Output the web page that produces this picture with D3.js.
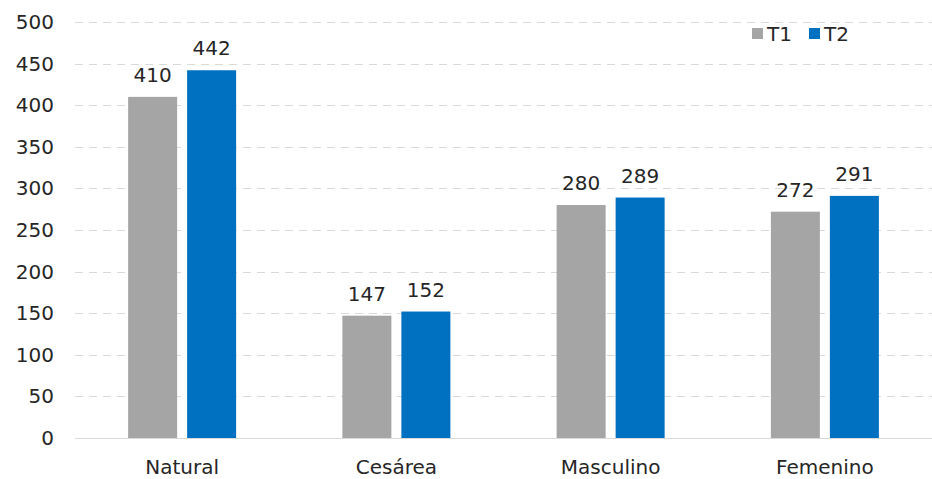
<!DOCTYPE html>
<html>
<head>
  <meta charset="utf-8">
  <title>Bars</title>
  <script src="https://d3js.org/d3.v7.min.js"></script>
  <style>
    body { margin: 0; background: #fff; font-family: 'Century Gothic', 'URW Gothic', 'DejaVu Sans', sans-serif; }
    text { fill: #262626; font-size: 20px; }
    .grid line { stroke: #d9d9d9; stroke-dasharray: 8 6; stroke-width: 1; }
  </style>
</head>
<body>
  <div id="chart"></div>
  <script>
    var categories = ['Natural', 'Cesárea', 'Masculino', 'Femenino'];
    var series = ['T1', 'T2'];
    var t1 = [410, 147, 280, 272];
    var t2 = [442, 152, 289, 291];
    var yTicks = [0, 50, 100, 150, 200, 250, 300, 350, 400, 450, 500];
    var colors = { 'T1': '#a5a5a5', 'T2': '#0070c0' };

    var width = 932, height = 479;
    var margin = { top: 22, right: 0, bottom: 41, left: 75 };

    var svg = d3.select('#chart').append('svg')
      .attr('width', width)
      .attr('height', height);

    var x0 = d3.scaleBand()
      .domain(categories)
      .range([margin.left, width - margin.right]);

    var bw = x0.bandwidth();
    // two bars of ~49px with a 10px gap, centred in each band
    var x1 = d3.scaleBand()
      .domain(series)
      .range([bw / 2 - 54, bw / 2 + 54])
      .paddingInner(10 / 59);

    var y = d3.scaleLinear()
      .domain([0, 500])
      .range([height - margin.bottom, margin.top]);

    // gridlines
    svg.append('g').attr('class', 'grid')
      .selectAll('line')
      .data(yTicks.slice(1))
      .enter().append('line')
      .attr('x1', margin.left)
      .attr('x2', width - margin.right)
      .attr('y1', function(d) { return Math.round(y(d)) + 0.5; })
      .attr('y2', function(d) { return Math.round(y(d)) + 0.5; });

    // y tick labels
    svg.append('g')
      .selectAll('text')
      .data(yTicks)
      .enter().append('text')
      .attr('x', 54)
      .attr('y', function(d) { return y(d); })
      .attr('dy', '0.35em')
      .attr('text-anchor', 'end')
      .text(function(d) { return d; });

    var rows = categories.map(function(c, i) {
      return { cat: c, values: [{ key: 'T1', v: t1[i] }, { key: 'T2', v: t2[i] }] };
    });

    var groups = svg.append('g')
      .selectAll('g')
      .data(rows)
      .enter().append('g')
      .attr('transform', function(d) { return 'translate(' + x0(d.cat) + ',0)'; });

    groups.selectAll('rect')
      .data(function(d) { return d.values; })
      .enter().append('rect')
      .attr('x', function(d) { return x1(d.key); })
      .attr('width', x1.bandwidth())
      .attr('y', function(d) { return y(d.v); })
      .attr('height', function(d) { return y(0) - y(d.v); })
      .attr('fill', function(d) { return colors[d.key]; });

    groups.selectAll('text.val')
      .data(function(d) { return d.values; })
      .enter().append('text')
      .attr('class', 'val')
      .attr('x', function(d) { return x1(d.key) + x1.bandwidth() / 2; })
      .attr('y', function(d) { return y(d.v) - 15; })
      .attr('text-anchor', 'middle')
      .text(function(d) { return d.v; });

    // baseline
    svg.append('line')
      .attr('x1', margin.left)
      .attr('x2', width - margin.right)
      .attr('y1', Math.round(y(0)) + 0.5)
      .attr('y2', Math.round(y(0)) + 0.5)
      .attr('stroke', '#d9d9d9')
      .attr('stroke-width', 1);

    // category labels
    svg.append('g')
      .selectAll('text')
      .data(categories)
      .enter().append('text')
      .attr('x', function(d) { return x0(d) + bw / 2; })
      .attr('y', 474)
      .attr('text-anchor', 'middle')
      .text(function(d) { return d; });

    // legend
    var legend = svg.append('g')
      .selectAll('g')
      .data(series)
      .enter().append('g')
      .attr('transform', function(d, i) { return 'translate(' + (752 + i * 57) + ',28)'; });

    legend.append('rect')
      .attr('width', 11)
      .attr('height', 11)
      .attr('fill', function(d) { return colors[d]; });

    legend.append('text')
      .attr('x', 15)
      .attr('y', 6)
      .attr('dy', '0.35em')
      .text(function(d) { return d; });
  </script>
</body>
</html>
